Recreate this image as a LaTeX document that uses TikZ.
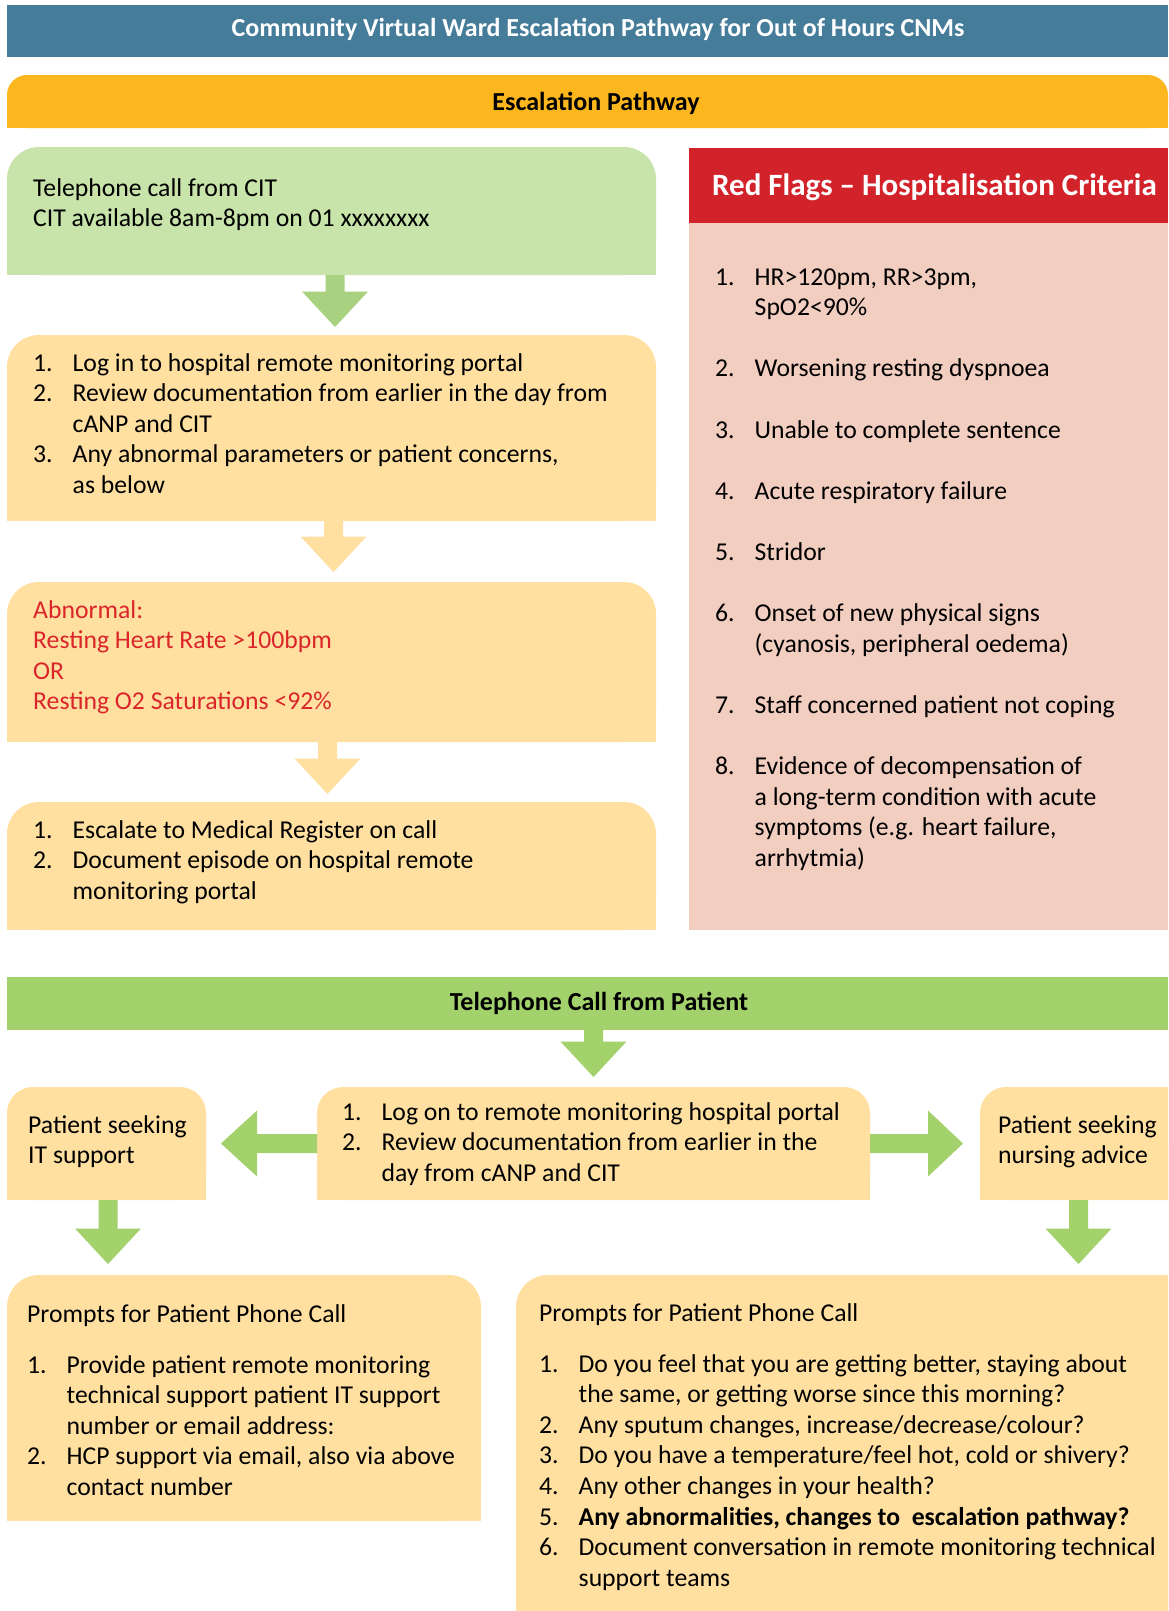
\documentclass[tikz,border=0pt]{standalone}
\usepackage{fontspec}
\setmainfont{Carlito}
\usetikzlibrary{calc}
\definecolor{titleblue}{RGB}{69,124,153}
\definecolor{escyellow}{RGB}{253,183,30}
\definecolor{palegreen}{RGB}{200,228,170}
\definecolor{arrowpale}{RGB}{169,210,128}
\definecolor{boxyellow}{RGB}{255,224,161}
\definecolor{flagred}{RGB}{210,35,43}
\definecolor{flagpink}{RGB}{242,206,193}
\definecolor{bargreen}{RGB}{163,209,108}
\definecolor{alertred}{RGB}{218,37,42}
\tikzset{
  area/.style={rectangle, inner sep=0pt, outer sep=0pt, anchor=north west, draw=none},
  roundbox/.style={area, rounded corners=#1},
  body/.style={anchor=base west, inner sep=0pt, font=\fontsize{25.7}{30.6}\selectfont},
  bartext/.style={anchor=base, inner sep=0pt, font=\fontsize{26}{30}\selectfont\bfseries},
  flagtitle/.style={anchor=base west, inner sep=0pt, text=white, font=\fontsize{31}{36}\selectfont\bfseries},
}
\newcommand\Num[1]{\makebox[39.5pt][l]{#1}}
\newcommand\Ind{\hspace*{39.5pt}}
\newcommand\squarebottom[2]{\fill[#1] (#2.west) rectangle (#2.south east);}
% vertical block arrow: colour, from node, to node, x centre, gap above target
\newcommand\vblock[5]{\fill[#1] let \p1=(#2.south), \p2=(#3.north) in
  ({#4-9.5pt},\y1) -- ({#4+9.5pt},\y1) -- ({#4+9.5pt},{\y2+#5+35.5pt}) -- ({#4+33pt},{\y2+#5+35.5pt})
  -- ({#4},{\y2+#5}) -- ({#4-33pt},{\y2+#5+35.5pt}) -- ({#4-9.5pt},{\y2+#5+35.5pt}) -- cycle;}
% horizontal block arrow: colour, start anchor, target anchor, tip offset, head length (signed)
\newcommand\hblock[5]{\fill[#1] let \p1=(#2), \p2=(#3) in
  (\x1,{\y1-9.5pt}) -- ({\x2+#4+#5},{\y1-9.5pt}) -- ({\x2+#4+#5},{\y1-33pt}) -- ({\x2+#4},\y1)
  -- ({\x2+#4+#5},{\y1+33pt}) -- ({\x2+#4+#5},{\y1+9.5pt}) -- (\x1,{\y1+9.5pt}) -- cycle;}
\begin{document}
\begin{tikzpicture}[x=1pt,y=1pt]
\useasboundingbox (0,0) rectangle (1168,-1611);
\clip (0,0) rectangle (1168,-1611);
\fill[white] (0,0) rectangle (1168,-1611);

% ---- header bars
\node[area, fill=titleblue, minimum width=1161pt, minimum height=52pt] (titlebar) at (7,-5) {};
\node[bartext, text=white] (titletext) at (598,-37) {Community Virtual Ward Escalation Pathway for Out of Hours CNMs};
\node[roundbox=20pt, fill=escyellow, minimum width=1161pt, minimum height=53pt] (escbar) at (7,-75) {};
\squarebottom{escyellow}{escbar}
\node[bartext] (esctext) at (596,-110) {Escalation Pathway};

% ---- left column boxes
\node[roundbox=32pt, fill=palegreen, minimum width=649pt, minimum height=128pt] (b1) at (7,-147) {};
\squarebottom{palegreen}{b1}
\node[roundbox=32pt, fill=boxyellow, minimum width=649pt, minimum height=186pt] (b2) at (7,-335) {};
\squarebottom{boxyellow}{b2}
\node[roundbox=32pt, fill=boxyellow, minimum width=649pt, minimum height=160pt] (b3) at (7,-582) {};
\squarebottom{boxyellow}{b3}
\node[roundbox=32pt, fill=boxyellow, minimum width=649pt, minimum height=128pt] (b4) at (7,-802) {};
\squarebottom{boxyellow}{b4}

\vblock{arrowpale}{b1}{b2}{335pt}{8pt}
\vblock{boxyellow}{b2}{b3}{333.5pt}{10pt}
\vblock{boxyellow}{b3}{b4}{327.5pt}{8pt}

\node[body] (t1) at (33,-196) {\parbox[t]{620pt}{Telephone call from CIT\\CIT available 8am-8pm on 01 xxxxxxxx}};
\node[body] (t2) at (33,-371) {\parbox[t]{620pt}{\Num{1.}Log in to hospital remote monitoring portal\\
\Num{2.}Review documentation from earlier in the day from\\
\Ind cANP and CIT\\
\Num{3.}Any abnormal parameters or patient concerns,\\
\Ind as below}};
\node[body, text=alertred] (t3) at (33,-618) {\parbox[t]{620pt}{Abnormal:\\Resting Heart Rate >100bpm\\OR\\Resting O2 Saturations <92\%}};
\node[body] (t4) at (33,-838) {\parbox[t]{620pt}{\Num{1.}Escalate to Medical Register on call\\
\Num{2.}Document episode on hospital remote\\
\Ind monitoring portal}};

% ---- red flags panel
\node[area, fill=flagred, minimum width=479pt, minimum height=75pt] (rfhead) at (689,-148) {};
\node[area, fill=flagpink, minimum width=479pt, minimum height=707pt] (rfbody) at (689,-223) {};
\node[flagtitle] (rftitle) at (712,-195) {Red Flags – Hospitalisation Criteria};
\node[body] (rflist) at (715,-285) {\parbox[t]{440pt}{\Num{1.}HR>120pm, RR>3pm,\\
\Ind SpO2<90\%\\[30.6pt]
\Num{2.}Worsening resting dyspnoea\\[30.6pt]
\Num{3.}Unable to complete sentence\\[30.6pt]
\Num{4.}Acute respiratory failure\\[30.6pt]
\Num{5.}Stridor\\[30.6pt]
\Num{6.}Onset of new physical signs\\
\Ind (cyanosis, peripheral oedema)\\[30.6pt]
\Num{7.}Staff concerned patient not coping\\[30.6pt]
\Num{8.}Evidence of decompensation of\\
\Ind a long-term condition with acute\\
\Ind symptoms (e.g. heart failure,\\
\Ind arrhytmia)}};

% ---- patient call section
\node[area, fill=bargreen, minimum width=1161pt, minimum height=53pt] (callbar) at (7,-977) {};
\node[bartext] (calltext) at (599,-1010) {Telephone Call from Patient};

\node[roundbox=26pt, fill=boxyellow, minimum width=199pt, minimum height=113pt] (itbox) at (7,-1087) {};
\squarebottom{boxyellow}{itbox}
\node[roundbox=26pt, fill=boxyellow, minimum width=553pt, minimum height=113pt] (mid) at (317,-1087) {};
\squarebottom{boxyellow}{mid}
\node[roundbox=26pt, fill=boxyellow, minimum width=240pt, minimum height=113pt] (nurse) at (980,-1087) {};
\squarebottom{boxyellow}{nurse}

\vblock{bargreen}{callbar}{mid}{593.5pt}{10pt}
\hblock{bargreen}{mid.west}{itbox.east}{15pt}{36pt}
\hblock{bargreen}{mid.east}{nurse.west}{-17pt}{-35pt}

\node[body] (ittext) at (28,-1133) {\parbox[t]{180pt}{Patient seeking\\IT support}};
\node[body] (midtext) at (342,-1120) {\parbox[t]{520pt}{\Num{1.}Log on to remote monitoring hospital portal\\
\Num{2.}Review documentation from earlier in the\\
\Ind day from cANP and CIT}};
\node[body] (nursetext) at (998,-1133) {\parbox[t]{180pt}{Patient seeking\\nursing advice}};

\node[roundbox=32pt, fill=boxyellow, minimum width=474pt, minimum height=246pt] (pl) at (7,-1275) {};
\squarebottom{boxyellow}{pl}
\node[roundbox=32pt, fill=boxyellow, minimum width=720pt, minimum height=400pt] (pr) at (516,-1275) {};
\squarebottom{boxyellow}{pr}

\vblock{bargreen}{itbox}{pl}{108pt}{11pt}
\vblock{bargreen}{nurse}{pr}{1078.5pt}{11pt}

\node[body] (pltext) at (27,-1322) {\parbox[t]{450pt}{Prompts for Patient Phone Call\\[20.4pt]
\Num{1.}Provide patient remote monitoring\\
\Ind technical support patient IT support\\
\Ind number or email address:\\
\Num{2.}HCP support via email, also via above\\
\Ind contact number}};
\node[body] (prtext) at (539,-1321) {\parbox[t]{620pt}{Prompts for Patient Phone Call\\[20.4pt]
\Num{1.}Do you feel that you are getting better, staying about\\
\Ind the same, or getting worse since this morning?\\
\Num{2.}Any sputum changes, increase/decrease/colour?\\
\Num{3.}Do you have a temperature/feel hot, cold or shivery?\\
\Num{4.}Any other changes in your health?\\
\Num{5.}\textbf{Any abnormalities, changes to\ \ escalation pathway?}\\
\Num{6.}Document conversation in remote monitoring technical\\
\Ind support teams}};
\end{tikzpicture}
\end{document}
